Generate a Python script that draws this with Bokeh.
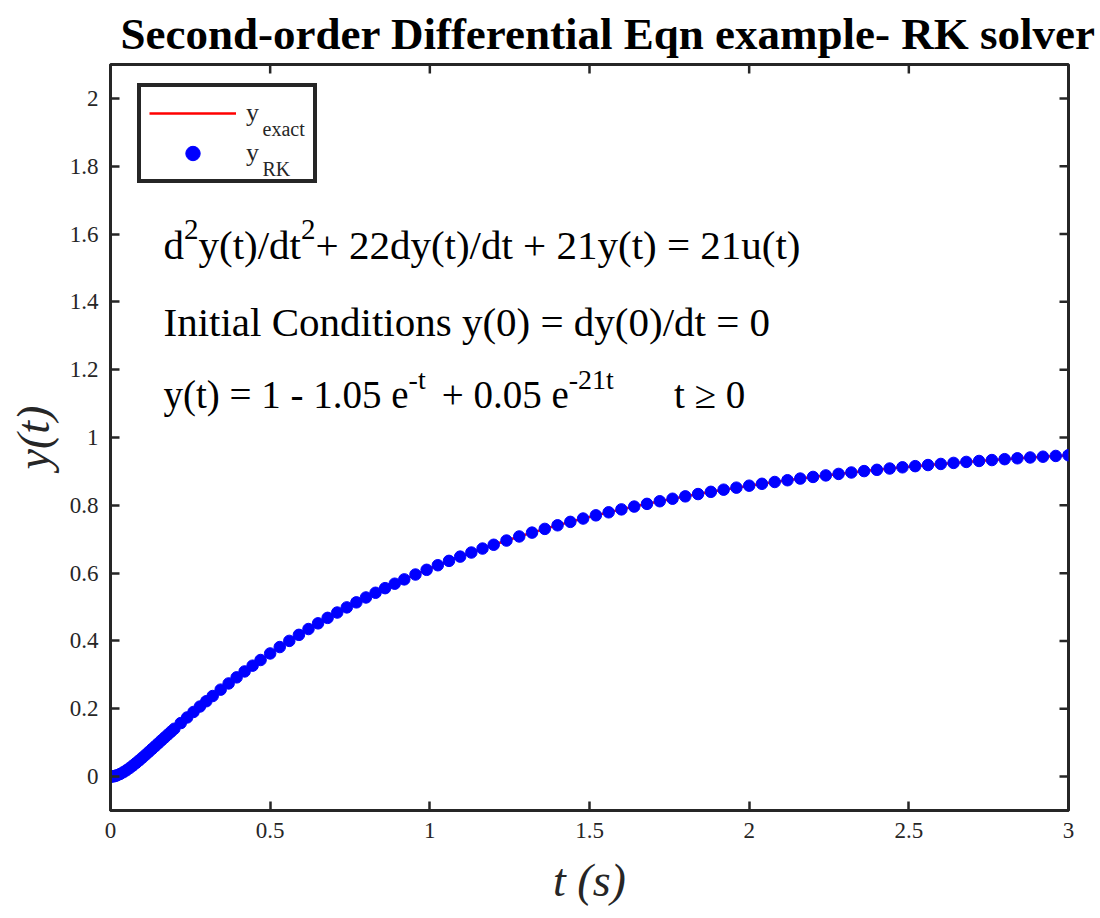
from math import pi
from bokeh.plotting import figure
from bokeh.models import (Label, Legend, LegendItem, LinearAxis, FixedTicker,
                          CustomJSTickFormatter, Range1d)
from bokeh.embed import file_html
from bokeh.resources import INLINE

# ---------------- data ----------------
t_rk = [0.0, 0.005, 0.01, 0.015, 0.02, 0.03, 0.04, 0.05, 0.06, 0.07, 0.08, 0.09,
        0.10, 0.11, 0.12, 0.13, 0.14, 0.15, 0.16, 0.17, 0.18, 0.19, 0.20, 0.22,
        0.24, 0.26, 0.28, 0.30, 0.32, 0.345, 0.37, 0.395, 0.42, 0.445, 0.47,
        0.50, 0.53, 0.56, 0.59, 0.62, 0.65, 0.68, 0.71, 0.74, 0.77, 0.80, 0.83,
        0.86, 0.89, 0.92, 0.955, 0.99, 1.025, 1.06, 1.095, 1.13, 1.165, 1.20,
        1.24, 1.28, 1.32, 1.36, 1.40, 1.44, 1.48, 1.52, 1.56, 1.60, 1.64, 1.68,
        1.72, 1.76, 1.80, 1.84, 1.88, 1.92, 1.96, 2.00, 2.04, 2.08, 2.12, 2.16,
        2.20, 2.24, 2.28, 2.32, 2.36, 2.40, 2.44, 2.48, 2.52, 2.56, 2.60, 2.64,
        2.68, 2.72, 2.76, 2.80, 2.84, 2.88, 2.92, 2.96, 3.00]
y_rk = [0.0, 0.0003, 0.0010, 0.0021, 0.0036, 0.0077, 0.0128, 0.0187, 0.0253,
        0.0325, 0.0400, 0.0479, 0.0560, 0.0643, 0.0728, 0.0813, 0.0898, 0.0984,
        0.1070, 0.1156, 0.1241, 0.1326, 0.1411, 0.1578, 0.1744, 0.1906, 0.2066,
        0.2222, 0.2376, 0.2564, 0.2747, 0.2926, 0.3101, 0.3271, 0.3438, 0.3631,
        0.3820, 0.4002, 0.4180, 0.4352, 0.4519, 0.4681, 0.4838, 0.4990, 0.5138,
        0.5282, 0.5421, 0.5557, 0.5688, 0.5816, 0.5959, 0.6098, 0.6233, 0.6362,
        0.6487, 0.6608, 0.6725, 0.6837, 0.6961, 0.7081, 0.7195, 0.7305, 0.7411,
        0.7512, 0.7610, 0.7704, 0.7794, 0.7880, 0.7963, 0.8043, 0.8120, 0.8194,
        0.8264, 0.8332, 0.8398, 0.8461, 0.8521, 0.8579, 0.8635, 0.8688, 0.8740,
        0.8789, 0.8837, 0.8882, 0.8926, 0.8968, 0.9009, 0.9047, 0.9085, 0.9121,
        0.9155, 0.9188, 0.9220, 0.9251, 0.9280, 0.9308, 0.9335, 0.9361, 0.9387,
        0.9411, 0.9434, 0.9456, 0.9477]
t_exact = t_rk
y_exact = y_rk

x_ticks = [0, 0.5, 1, 1.5, 2, 2.5, 3]
y_ticks = [0, 0.2, 0.4, 0.6, 0.8, 1, 1.2, 1.4, 1.6, 1.8, 2]

title_text = "Second-order Differential Eqn example- RK solver"
xlabel_text = "t (s)"
ylabel_text = "y(t)"
legend_names = ["exact", "RK"]

SERIF = "Liberation Serif"
AXC = "#262626"

X_MIN, X_MAX, Y_MIN, Y_MAX = 0, 3, -0.1, 2.1
BL, BR, BT, BB = 110, 32, 63, 100
FW, FH = 958, 747

p = figure(width=BL + FW + BR, height=BT + FH + BB, output_backend="svg",
           toolbar_location=None,
           x_range=Range1d(X_MIN, X_MAX), y_range=Range1d(Y_MIN, Y_MAX),
           min_border_left=BL, min_border_right=BR, min_border_top=BT,
           min_border_bottom=BB, x_axis_location=None, y_axis_location=None)
p.grid.visible = False
p.outline_line_color = AXC
p.outline_line_width = 3
p.outline_line_alpha = 1
p.background_fill_color = "white"
p.border_fill_color = "white"

p.title.text = title_text
p.title.text_font = SERIF
p.title.text_font_size = "45px"
p.title.text_font_style = "bold"
p.title.align = "left"
p.title.offset = 10
p.title.standoff = 12
p.title.text_color = "black"

fmt = CustomJSTickFormatter(code="return (Math.round(tick*10)/10).toString();")


def make_axis(ticks, label):
    ax = LinearAxis(ticker=FixedTicker(ticks=ticks), formatter=fmt)
    ax.axis_line_color = AXC
    ax.axis_line_width = 3
    ax.major_tick_line_color = AXC
    ax.major_tick_line_width = 2.5
    ax.major_tick_in = 9
    ax.major_tick_out = 0
    ax.minor_tick_line_color = None
    ax.major_label_text_font = SERIF
    ax.major_label_text_color = AXC
    ax.major_label_text_font_size = "23px"
    ax.major_label_standoff = 12
    ax.axis_label = label
    ax.axis_label_text_font = SERIF
    ax.axis_label_text_font_size = "46px"
    ax.axis_label_text_font_style = "italic"
    ax.axis_label_text_color = AXC
    return ax


bx = make_axis(x_ticks, xlabel_text)
bx.axis_label_standoff = 14
ly = make_axis(y_ticks, ylabel_text)
ly.axis_label_standoff = 8
p.add_layout(bx, "below")
p.add_layout(ly, "left")

# inward ticks on the top and right edges of the box
tick_dx = 9 * (X_MAX - X_MIN) / FW
tick_dy = 9 * (Y_MAX - Y_MIN) / FH
p.segment(x0=x_ticks, y0=[Y_MAX] * len(x_ticks), x1=x_ticks,
          y1=[Y_MAX - tick_dy] * len(x_ticks), line_color=AXC, line_width=2.5)
p.segment(x0=[X_MAX] * len(y_ticks), y0=y_ticks, x1=[X_MAX - tick_dx] * len(y_ticks),
          y1=y_ticks, line_color=AXC, line_width=2.5)

line_r = p.line(t_exact, y_exact, line_color="#FF0000", line_width=2.5)
dot_r = p.scatter(t_rk, y_rk, size=11.5, fill_color="#0000FF", line_color="#0000FF")

legend = Legend(items=[LegendItem(label="y", renderers=[line_r]),
                       LegendItem(label="y", renderers=[dot_r])],
                location=(27, 627), orientation="vertical")
legend.border_line_color = AXC
legend.border_line_alpha = 1
legend.border_line_width = 4
legend.padding = 8
legend.spacing = 4
legend.margin = 0
legend.glyph_width = 87
legend.glyph_height = 36
legend.label_height = 36
legend.label_width = 59
legend.label_standoff = 10
legend.label_text_font = SERIF
legend.label_text_font_size = "26px"
legend.label_text_color = AXC
legend.background_fill_alpha = 0
p.add_layout(legend)

for name, yy in zip(legend_names, [1.909, 1.791]):
    p.add_layout(Label(x=0.476, y=yy, text=name, text_font=SERIF,
                       text_font_size="20px", text_color=AXC, level="overlay",
                       text_baseline="alphabetic"))

# equation annotations with superscripts
W = {" ": 250, "(": 333, ")": 333, "+": 564, "-": 333, ".": 250, "/": 278,
     "=": 564, "C": 667, "I": 333, "a": 444, "c": 444, "d": 500, "e": 444,
     "i": 278, "l": 278, "n": 500, "o": 500, "s": 389, "t": 278, "u": 500,
     "y": 500, "\u2265": 549}


def text_w(s, size):
    return sum(W.get(ch, 500) for ch in s) / 1000.0 * size


X0 = 0.166


def add_line(pieces, ybase, fs, sup_fs):
    off = 0.0
    for txt, sup, gap in pieces:
        size = sup_fs if sup else fs
        off += gap
        p.add_layout(Label(x=X0, y=ybase, x_offset=off, y_offset=15 if sup else 0,
                           text=txt, text_font=SERIF, text_font_size=f"{size}px",
                           text_baseline="alphabetic", text_color="black"))
        off += text_w(txt, size)


add_line([("d", False, 0), ("2", True, 0), ("y(t)/dt", False, 0), ("2", True, 0),
          ("+ 22dy(t)/dt + 21y(t) = 21u(t)", False, 0)], 1.568, 41, 29)
add_line([("Initial Conditions y(0) = dy(0)/dt = 0", False, 0)], 1.341, 41, 29)
add_line([("y(t) = 1 - 1.05 e", False, 0), ("-t", True, 0),
          ("+ 0.05 e", False, 16), ("-21t", True, 0),
          ("t \u2265 0", False, 60)], 1.126, 39, 28)

open("out.html", "w").write(file_html(p, INLINE))
